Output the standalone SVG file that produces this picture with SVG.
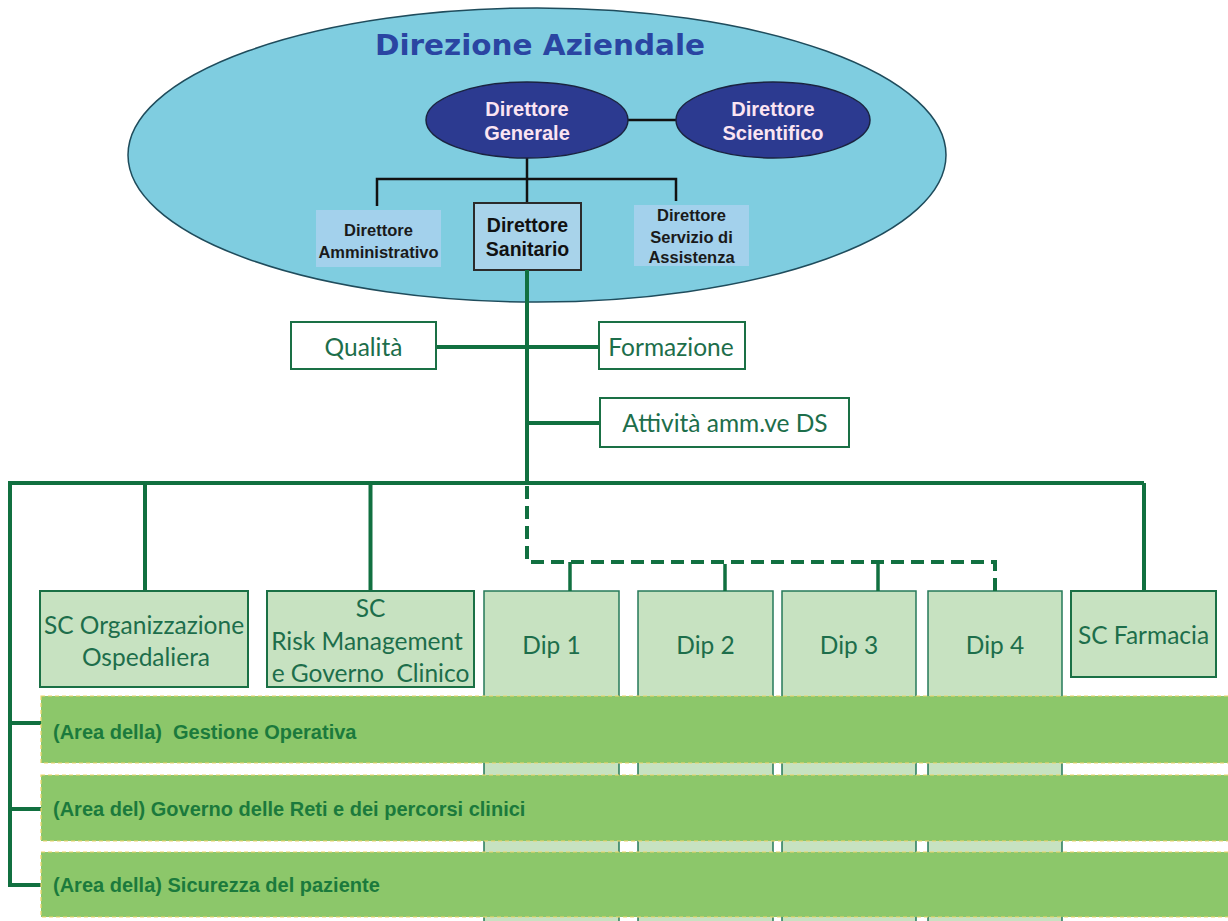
<svg xmlns="http://www.w3.org/2000/svg" width="1228" height="921" viewBox="0 0 1228 921">
  <style>
    .bg { fill: #ffffff; }
    .outer { fill: #7fcde0; stroke: #1f4c5c; stroke-width: 1.5; }
    .title { font-family: "DejaVu Sans", "Liberation Sans", sans-serif; font-weight: bold; font-size: 28px; fill: #2a45a2; text-anchor: middle; }
    .oval { fill: #2c3a90; stroke: #1a2340; stroke-width: 1.5; }
    .oval-t { font-family: "Liberation Sans", Arial, sans-serif; font-weight: bold; font-size: 20px; fill: #fbe4f2; text-anchor: middle; }
    .dbox { fill: #a3d1ec; }
    .dbox-b { fill: #a8d3ea; stroke: #2b2b2b; stroke-width: 2; }
    .d-t { font-family: "Liberation Sans", Arial, sans-serif; font-weight: bold; font-size: 16.5px; fill: #1a1a1a; text-anchor: middle; }
    .ds-t { font-family: "Liberation Sans", Arial, sans-serif; font-weight: bold; font-size: 19.5px; fill: #111111; text-anchor: middle; }
    .blk { fill: none; stroke: #111111; stroke-width: 2.5; }
    .grn { fill: none; stroke: #117040; stroke-width: 4; }
    .tick { fill: none; stroke: #117040; stroke-width: 3.5; }
    .dash { fill: none; stroke: #117040; stroke-width: 4; stroke-dasharray: 13 7; }
    .wbox { fill: #ffffff; stroke: #1a7045; stroke-width: 2; }
    .gbox { fill: #c7e2c1; stroke: #1a7045; stroke-width: 2; }
    .dip { fill: #c7e2c1; stroke: #267a5a; stroke-width: 1.5; }
    .g-t { font-family: Lato, "Open Sans", sans-serif; font-size: 24.5px; fill: #1d6e4b; text-anchor: middle; white-space: pre; }
    .bar { fill: #8cc76a; stroke: #f0d46a; stroke-width: 1.2; stroke-dasharray: 4 3; }
    .bar-t { font-family: "Liberation Sans", Arial, sans-serif; font-weight: bold; font-size: 20px; fill: #1b7a3c; white-space: pre; }
  </style>

  <rect class="bg" x="0" y="0" width="1228" height="921"/>

  <!-- management area -->
  <g id="direzione-aziendale">
    <ellipse class="outer" cx="537" cy="155" rx="409" ry="147"/>
    <text class="title" x="540" y="55" textLength="330" lengthAdjust="spacingAndGlyphs">Direzione Aziendale</text>
  </g>

  <!-- links inside the management area -->
  <g id="connectors-top">
    <path class="blk" d="M628,120 H676"/>
    <path class="blk" d="M527,158 V203"/>
    <path class="blk" d="M377,206 V179 H676 V201"/>
  </g>

  <g id="direttore-generale">
    <ellipse class="oval" cx="527" cy="120" rx="101" ry="38"/>
    <text class="oval-t" x="527" y="116">Direttore</text>
    <text class="oval-t" x="527" y="140">Generale</text>
  </g>

  <g id="direttore-scientifico">
    <ellipse class="oval" cx="773" cy="120" rx="97" ry="38"/>
    <text class="oval-t" x="773" y="116">Direttore</text>
    <text class="oval-t" x="773" y="140">Scientifico</text>
  </g>

  <g id="direttore-amministrativo">
    <rect class="dbox" x="316" y="210" width="125" height="57"/>
    <text class="d-t" x="378.5" y="236">Direttore</text>
    <text class="d-t" x="378.5" y="258">Amministrativo</text>
  </g>

  <g id="direttore-sanitario">
    <rect class="dbox-b" x="474" y="203" width="107" height="67"/>
    <text class="ds-t" x="527.5" y="232">Direttore</text>
    <text class="ds-t" x="527.5" y="256">Sanitario</text>
  </g>

  <g id="direttore-servizio-assistenza">
    <rect class="dbox" x="634" y="205" width="115" height="61"/>
    <text class="d-t" x="691.5" y="221">Direttore</text>
    <text class="d-t" x="691.5" y="243">Servizio di</text>
    <text class="d-t" x="691.5" y="263">Assistenza</text>
  </g>

  <!-- departments, drawn under the area bars -->
  <g id="dip-1">
    <rect class="dip" x="484" y="591" width="135" height="340"/>
    <text class="g-t" x="551.5" y="653.5">Dip 1</text>
  </g>
  <g id="dip-2">
    <rect class="dip" x="638" y="591" width="135" height="340"/>
    <text class="g-t" x="705.5" y="653.5">Dip 2</text>
  </g>
  <g id="dip-3">
    <rect class="dip" x="782" y="591" width="134" height="340"/>
    <text class="g-t" x="849" y="653.5">Dip 3</text>
  </g>
  <g id="dip-4">
    <rect class="dip" x="928" y="591" width="134" height="340"/>
    <text class="g-t" x="995" y="653.5">Dip 4</text>
  </g>

  <!-- green reporting lines -->
  <g id="connectors">
    <path class="grn" d="M527,270 V483"/>
    <path class="grn" d="M436,347 H599"/>
    <path class="grn" d="M527,423 H600"/>
    <path class="grn" d="M10,483 H1144"/>
    <path class="grn" d="M145,483 V591"/>
    <path class="grn" d="M370.5,483 V591"/>
    <path class="grn" d="M1144,483 V591"/>
    <path class="grn" d="M10,481 V885 H41"/>
    <path class="grn" d="M10,723 H41"/>
    <path class="grn" d="M10,809 H41"/>
    <path class="dash" d="M527,486 V562 H995 V591"/>
    <path class="tick" d="M570,562 V591"/>
    <path class="tick" d="M725,564 V591"/>
    <path class="tick" d="M878,564 V591"/>
  </g>

  <g id="qualita">
    <rect class="wbox" x="291" y="322" width="145" height="47"/>
    <text class="g-t" x="363.5" y="355.5">Qualità</text>
  </g>

  <g id="formazione">
    <rect class="wbox" x="599" y="322" width="146" height="47"/>
    <text class="g-t" x="671" y="355.5">Formazione</text>
  </g>

  <g id="attivita-amministrative">
    <rect class="wbox" x="600" y="398" width="249" height="49"/>
    <text class="g-t" x="725" y="431.5">Attività amm.ve DS</text>
  </g>

  <g id="sc-organizzazione">
    <rect class="gbox" x="40" y="591" width="208" height="96"/>
    <text class="g-t" x="144" y="633.5">SC Organizzazione</text>
    <text class="g-t" x="146" y="665.5">Ospedaliera</text>
  </g>

  <g id="sc-risk-management">
    <rect class="gbox" x="267" y="591" width="207" height="96"/>
    <text class="g-t" x="370.5" y="616.5">SC</text>
    <text class="g-t" x="367" y="649.5">Risk Management</text>
    <text class="g-t" x="370.5" y="681.5">e Governo  Clinico</text>
  </g>

  <g id="sc-farmacia">
    <rect class="gbox" x="1071" y="591" width="145" height="86"/>
    <text class="g-t" x="1143.5" y="643.5">SC Farmacia</text>
  </g>

  <!-- transversal areas -->
  <g id="area-gestione-operativa">
    <rect class="bar" x="41" y="696" width="1195" height="67"/>
    <text class="bar-t" x="53" y="739">(Area della)  Gestione Operativa</text>
  </g>
  <g id="area-governo-reti">
    <rect class="bar" x="41" y="775" width="1195" height="66"/>
    <text class="bar-t" x="53" y="816">(Area del) Governo delle Reti e dei percorsi clinici</text>
  </g>
  <g id="area-sicurezza">
    <rect class="bar" x="41" y="852" width="1195" height="65"/>
    <text class="bar-t" x="53" y="892">(Area della) Sicurezza del paziente</text>
  </g>
</svg>
